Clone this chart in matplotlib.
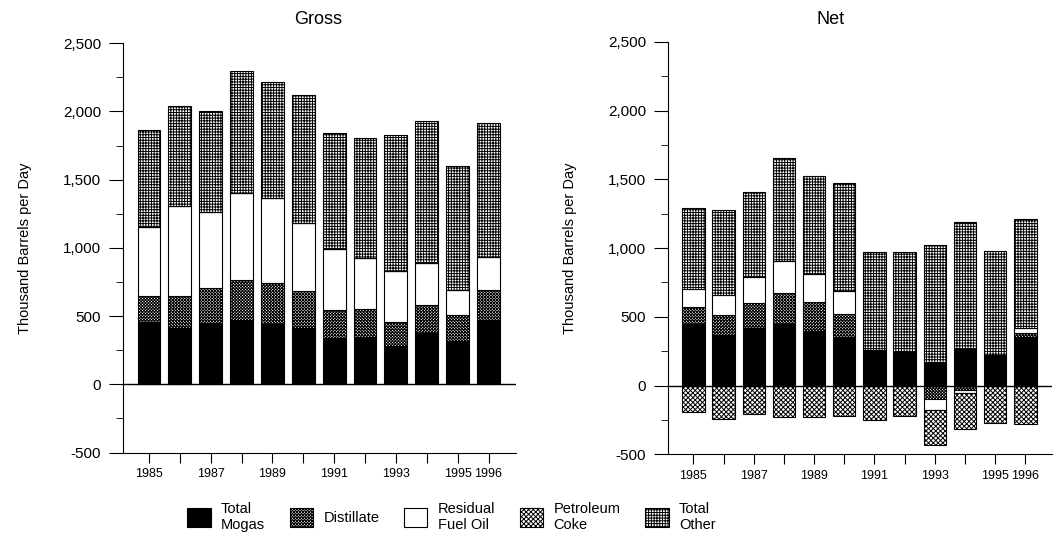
import numpy as np
import matplotlib
matplotlib.use("Agg")
import matplotlib.pyplot as plt
from matplotlib.patches import Patch
from matplotlib.ticker import FuncFormatter, MultipleLocator

years = list(range(1985, 1997))
year_labels = ["1985", "", "1987", "", "1989", "", "1991", "", "1993", "", "1995", "1996"]

# Gross (thousand barrels per day)
gross_mogas = [455, 410, 450, 470, 440, 410, 340, 345, 280, 380, 315, 475]
gross_distillate = [195, 240, 255, 295, 305, 275, 205, 210, 180, 205, 190, 220]
gross_residual = [505, 660, 555, 640, 620, 495, 445, 370, 370, 305, 190, 240]
gross_coke = [0, 0, 0, 0, 0, 0, 0, 0, 0, 0, 0, 0]
gross_other = [710, 730, 740, 890, 850, 940, 850, 880, 1000, 1040, 905, 980]

# Net
net_mogas = [445, 370, 415, 445, 400, 350, 255, 245, 165, 265, 220, 355]
net_distillate = [125, 145, 185, 225, 205, 170, 0, 0, -95, -30, 0, 30]
net_residual = [130, 140, 190, 235, 205, 165, 0, 0, -80, -25, 0, 35]
net_coke = [-190, -240, -210, -230, -230, -220, -250, -220, -255, -265, -270, -280]
net_other = [590, 620, 620, 750, 715, 785, 715, 730, 855, 925, 760, 790]

labels = ["Total\nMogas", "Distillate", "Residual\nFuel Oil", "Petroleum\nCoke", "Total\nOther"]
styles = [
    dict(color="black", hatch=None),
    dict(color="white", hatch="xxxxxxxxxxx"),
    dict(color="white", hatch=None),
    dict(color="white", hatch="xxxxxxx"),
    dict(color="white", hatch="++++++"),
]

plt.rcParams["font.family"] = ["Liberation Sans", "DejaVu Sans"]
plt.rcParams["hatch.linewidth"] = 0.7

fig = plt.figure(figsize=(10.62, 5.44), dpi=100)
ax1 = fig.add_axes([0.1161, 0.168, 0.3695, 0.7526])
ax2 = fig.add_axes([0.6293, 0.165, 0.3612, 0.758])


def draw(ax, series):
    x = np.arange(len(years))
    pos = np.zeros(len(years))
    neg = np.zeros(len(years))
    for vals, st in zip(series, styles):
        v = np.array(vals, dtype=float)
        bottom = np.where(v >= 0, pos, neg)
        ax.bar(x, v, 0.74, bottom=bottom, color=st["color"], hatch=st["hatch"],
               edgecolor="black", linewidth=0.8, zorder=2)
        pos = pos + np.where(v > 0, v, 0)
        neg = neg + np.where(v < 0, v, 0)
    ax.axhline(0, color="black", lw=1, zorder=3)
    ax.set_xlim(-0.83, 11.88)
    ax.set_ylim(-500, 2500)
    ax.set_xticks(x)
    ax.set_xticklabels(year_labels, fontsize=9)
    ax.yaxis.set_major_locator(MultipleLocator(500))
    ax.yaxis.set_minor_locator(MultipleLocator(250))
    ax.yaxis.set_major_formatter(FuncFormatter(lambda v, p: f"{int(v):,}"))
    ax.tick_params(axis="y", which="major", length=10, labelsize=11, pad=6)
    ax.tick_params(axis="y", which="minor", length=5)
    ax.tick_params(axis="x", length=7, pad=4)
    for s in ["top", "right"]:
        ax.spines[s].set_visible(False)
    ax.set_ylabel("Thousand Barrels per Day", fontsize=10.5, labelpad=22)


draw(ax1, [gross_mogas, gross_distillate, gross_residual, gross_coke, gross_other])
draw(ax2, [net_mogas, net_distillate, net_residual, net_coke, net_other])

fig.text(0.30, 0.965, "Gross", ha="center", va="center", fontsize=13)
fig.text(0.782, 0.965, "Net", ha="center", va="center", fontsize=13)

handles = [Patch(facecolor=st["color"], hatch=st["hatch"], edgecolor="black", linewidth=0.8)
           for st in styles]
fig.legend(handles, labels, loc="center", bbox_to_anchor=(0.425, 0.05), ncol=5,
           frameon=False, fontsize=10.5, handlelength=1.6, handleheight=1.6,
           columnspacing=1.7, handletextpad=0.7)

fig.savefig("out.png", dpi=100)
